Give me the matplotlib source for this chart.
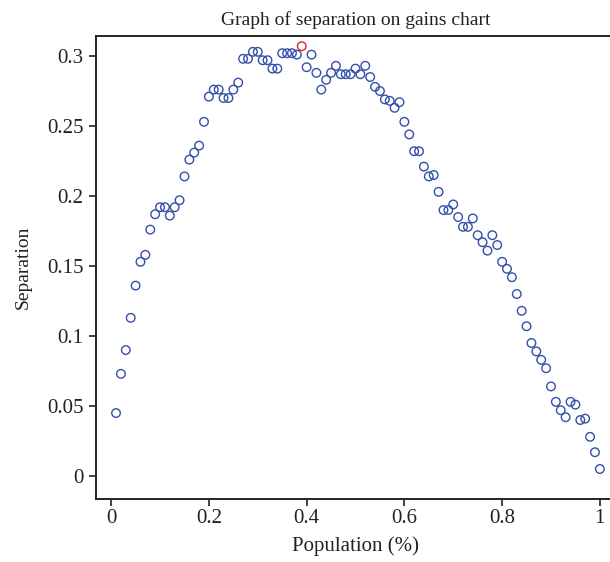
import numpy as np
import matplotlib
matplotlib.use('Agg')
import matplotlib.pyplot as plt
from matplotlib.ticker import FuncFormatter

plt.rcParams['font.family'] = ['Liberation Serif', 'DejaVu Serif']

population = np.round(np.arange(1, 101) / 100, 2)
separation = [
    0.045, 0.073, 0.090, 0.113, 0.136, 0.153, 0.158, 0.176, 0.187, 0.192,
    0.192, 0.186, 0.192, 0.197, 0.214, 0.226, 0.231, 0.236, 0.253, 0.271,
    0.276, 0.276, 0.270, 0.270, 0.276, 0.281, 0.298, 0.298, 0.303, 0.303,
    0.297, 0.297, 0.291, 0.291, 0.302, 0.302, 0.302, 0.301, 0.307, 0.292,
    0.301, 0.288, 0.276, 0.283, 0.288, 0.293, 0.287, 0.287, 0.287, 0.291,
    0.287, 0.293, 0.285, 0.278, 0.275, 0.269, 0.268, 0.263, 0.267, 0.253,
    0.244, 0.232, 0.232, 0.221, 0.214, 0.215, 0.203, 0.190, 0.190, 0.194,
    0.185, 0.178, 0.178, 0.184, 0.172, 0.167, 0.161, 0.172, 0.165, 0.153,
    0.148, 0.142, 0.130, 0.118, 0.107, 0.095, 0.089, 0.083, 0.077, 0.064,
    0.053, 0.047, 0.042, 0.053, 0.051, 0.040, 0.041, 0.028, 0.017, 0.005,
]
separation = np.array(separation)
best = int(np.argmax(separation))

fig = plt.figure(figsize=(6.10, 5.62), dpi=100)
ax = fig.add_axes([96 / 610, 63 / 562, 519 / 610, 463 / 562])

others = np.arange(len(population)) != best
ax.scatter(population[others], separation[others], s=38, facecolors='none',
           edgecolors='#3350a8', linewidths=1.0, zorder=3)
ax.scatter(population[best], separation[best], s=38, facecolors='none',
           edgecolors='#e0202a', linewidths=1.0, zorder=4)

ax.set_xlim(-0.031, 1.031)
ax.set_ylim(-0.0164, 0.3143)
ax.set_xticks([0, 0.2, 0.4, 0.6, 0.8, 1])
ax.set_yticks([0, 0.05, 0.1, 0.15, 0.2, 0.25, 0.3])
fmt = FuncFormatter(lambda v, p: '%g' % v)
ax.xaxis.set_major_formatter(fmt)
ax.yaxis.set_major_formatter(fmt)
ax.tick_params(direction='out', length=5, width=1.2, labelsize=15, colors='#222222',
               labelcolor='#222222', pad=4)
ax.tick_params(axis='x', pad=2)
for side in ['left', 'bottom', 'top']:
    ax.spines[side].set_linewidth(1.4)
    ax.spines[side].set_color('#222222')
ax.spines['right'].set_visible(False)

ax.set_title('Graph of separation on gains chart', fontsize=14, color='#222222', pad=8)
ax.set_xlabel('Population (%)', fontsize=15, color='#222222', labelpad=6)
ax.set_ylabel('Separation', fontsize=14, color='#222222', labelpad=11)

fig.savefig('out.png', dpi=100)
